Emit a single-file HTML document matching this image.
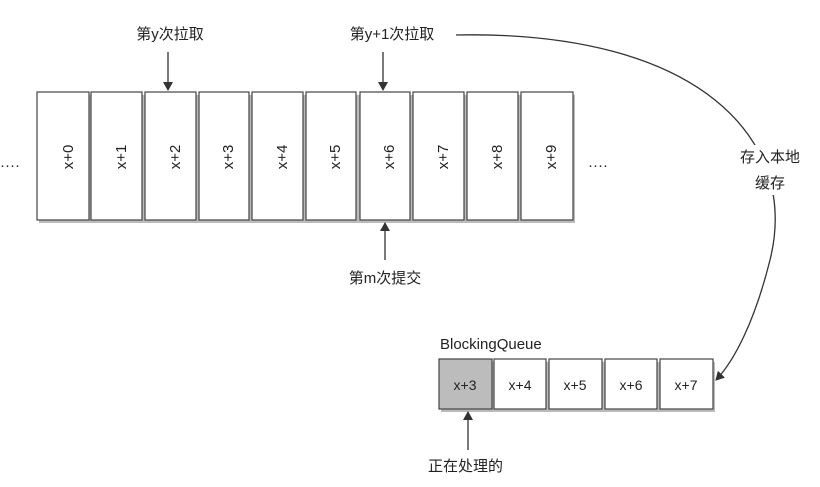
<!DOCTYPE html>
<html><head><meta charset="utf-8"><style>
body{margin:0;background:#fff;width:820px;height:482px;overflow:hidden;font-family:"Liberation Sans","Noto Sans CJK SC",sans-serif;}
svg text{font-family:"Liberation Sans","Noto Sans CJK SC",sans-serif;fill:#222}
</style></head><body>
<svg width="820" height="482" viewBox="0 0 820 482" xmlns="http://www.w3.org/2000/svg">
<defs>
<marker id="a" markerWidth="10" markerHeight="10" refX="8" refY="5" orient="auto" markerUnits="userSpaceOnUse"><path d="M0,0 L9,5 L0,10 z" fill="#333"/></marker>
</defs>
<g id="top">
<rect x="39" y="95" width="536" height="128" fill="#bbb"/>
<g fill="#fff" stroke="#444" stroke-width="1.2">
<rect x="37" y="92" width="52" height="128"/><rect x="91" y="92" width="51" height="128"/>
<rect x="145" y="92" width="51" height="128"/><rect x="199" y="92" width="50" height="128"/>
<rect x="252" y="92" width="51" height="128"/><rect x="306" y="92" width="50" height="128"/>
<rect x="360" y="92" width="50" height="128"/><rect x="413" y="92" width="51" height="128"/>
<rect x="467" y="92" width="51" height="128"/><rect x="521" y="92" width="52" height="128"/>
</g>
<g font-size="15" text-anchor="middle">
<text transform="translate(68,157) rotate(-90)" dy="5">x+0</text>
<text transform="translate(121,157) rotate(-90)" dy="5">x+1</text>
<text transform="translate(175,157) rotate(-90)" dy="5">x+2</text>
<text transform="translate(228,157) rotate(-90)" dy="5">x+3</text>
<text transform="translate(282,157) rotate(-90)" dy="5">x+4</text>
<text transform="translate(335,157) rotate(-90)" dy="5">x+5</text>
<text transform="translate(389,157) rotate(-90)" dy="5">x+6</text>
<text transform="translate(443,157) rotate(-90)" dy="5">x+7</text>
<text transform="translate(497,157) rotate(-90)" dy="5">x+8</text>
<text transform="translate(551,157) rotate(-90)" dy="5">x+9</text>
</g>
</g>
<text x="0" y="170" font-size="15">····</text>
<text x="588" y="170" font-size="15">····</text>
<text x="170" y="39" font-size="15" text-anchor="middle">第y次拉取</text>
<text x="392" y="39" font-size="15" text-anchor="middle">第y+1次拉取</text>
<text x="385" y="283" font-size="15" text-anchor="middle">第m次提交</text>
<line x1="168" y1="52" x2="168" y2="90" stroke="#333" stroke-width="1.3" marker-end="url(#a)"/>
<line x1="383" y1="52" x2="383" y2="90" stroke="#333" stroke-width="1.3" marker-end="url(#a)"/>
<line x1="385" y1="260" x2="385" y2="223" stroke="#333" stroke-width="1.3" marker-end="url(#a)"/>
<path d="M456,35 C700,30 800,140 770,260 C755,320 735,360 716,380" fill="none" stroke="#333" stroke-width="1.3" marker-end="url(#a)"/>
<rect x="735" y="145" width="70" height="50" fill="#fff"/>
<text x="770" y="162" font-size="15" text-anchor="middle">存入本地</text>
<text x="770" y="188" font-size="15" text-anchor="middle">缓存</text>
<text x="440" y="349" font-size="15">BlockingQueue</text>
<rect x="441" y="362" width="274" height="50" fill="#bbb"/>
<g stroke="#444" stroke-width="1.2">
<rect x="439" y="359" width="53" height="50" fill="#bcbcbc"/>
<rect x="494" y="359" width="52" height="50" fill="#fff"/>
<rect x="549" y="359" width="53" height="50" fill="#fff"/>
<rect x="605" y="359" width="52" height="50" fill="#fff"/>
<rect x="660" y="359" width="53" height="50" fill="#fff"/>
</g>
<g font-size="14" text-anchor="middle">
<text x="465" y="390">x+3</text><text x="520" y="390">x+4</text><text x="575" y="390">x+5</text><text x="631" y="390">x+6</text><text x="686" y="390">x+7</text>
</g>
<line x1="468" y1="450" x2="468" y2="412" stroke="#333" stroke-width="1.3" marker-end="url(#a)"/>
<text x="428" y="471" font-size="15">正在处理的</text>
</svg>
</body></html>
